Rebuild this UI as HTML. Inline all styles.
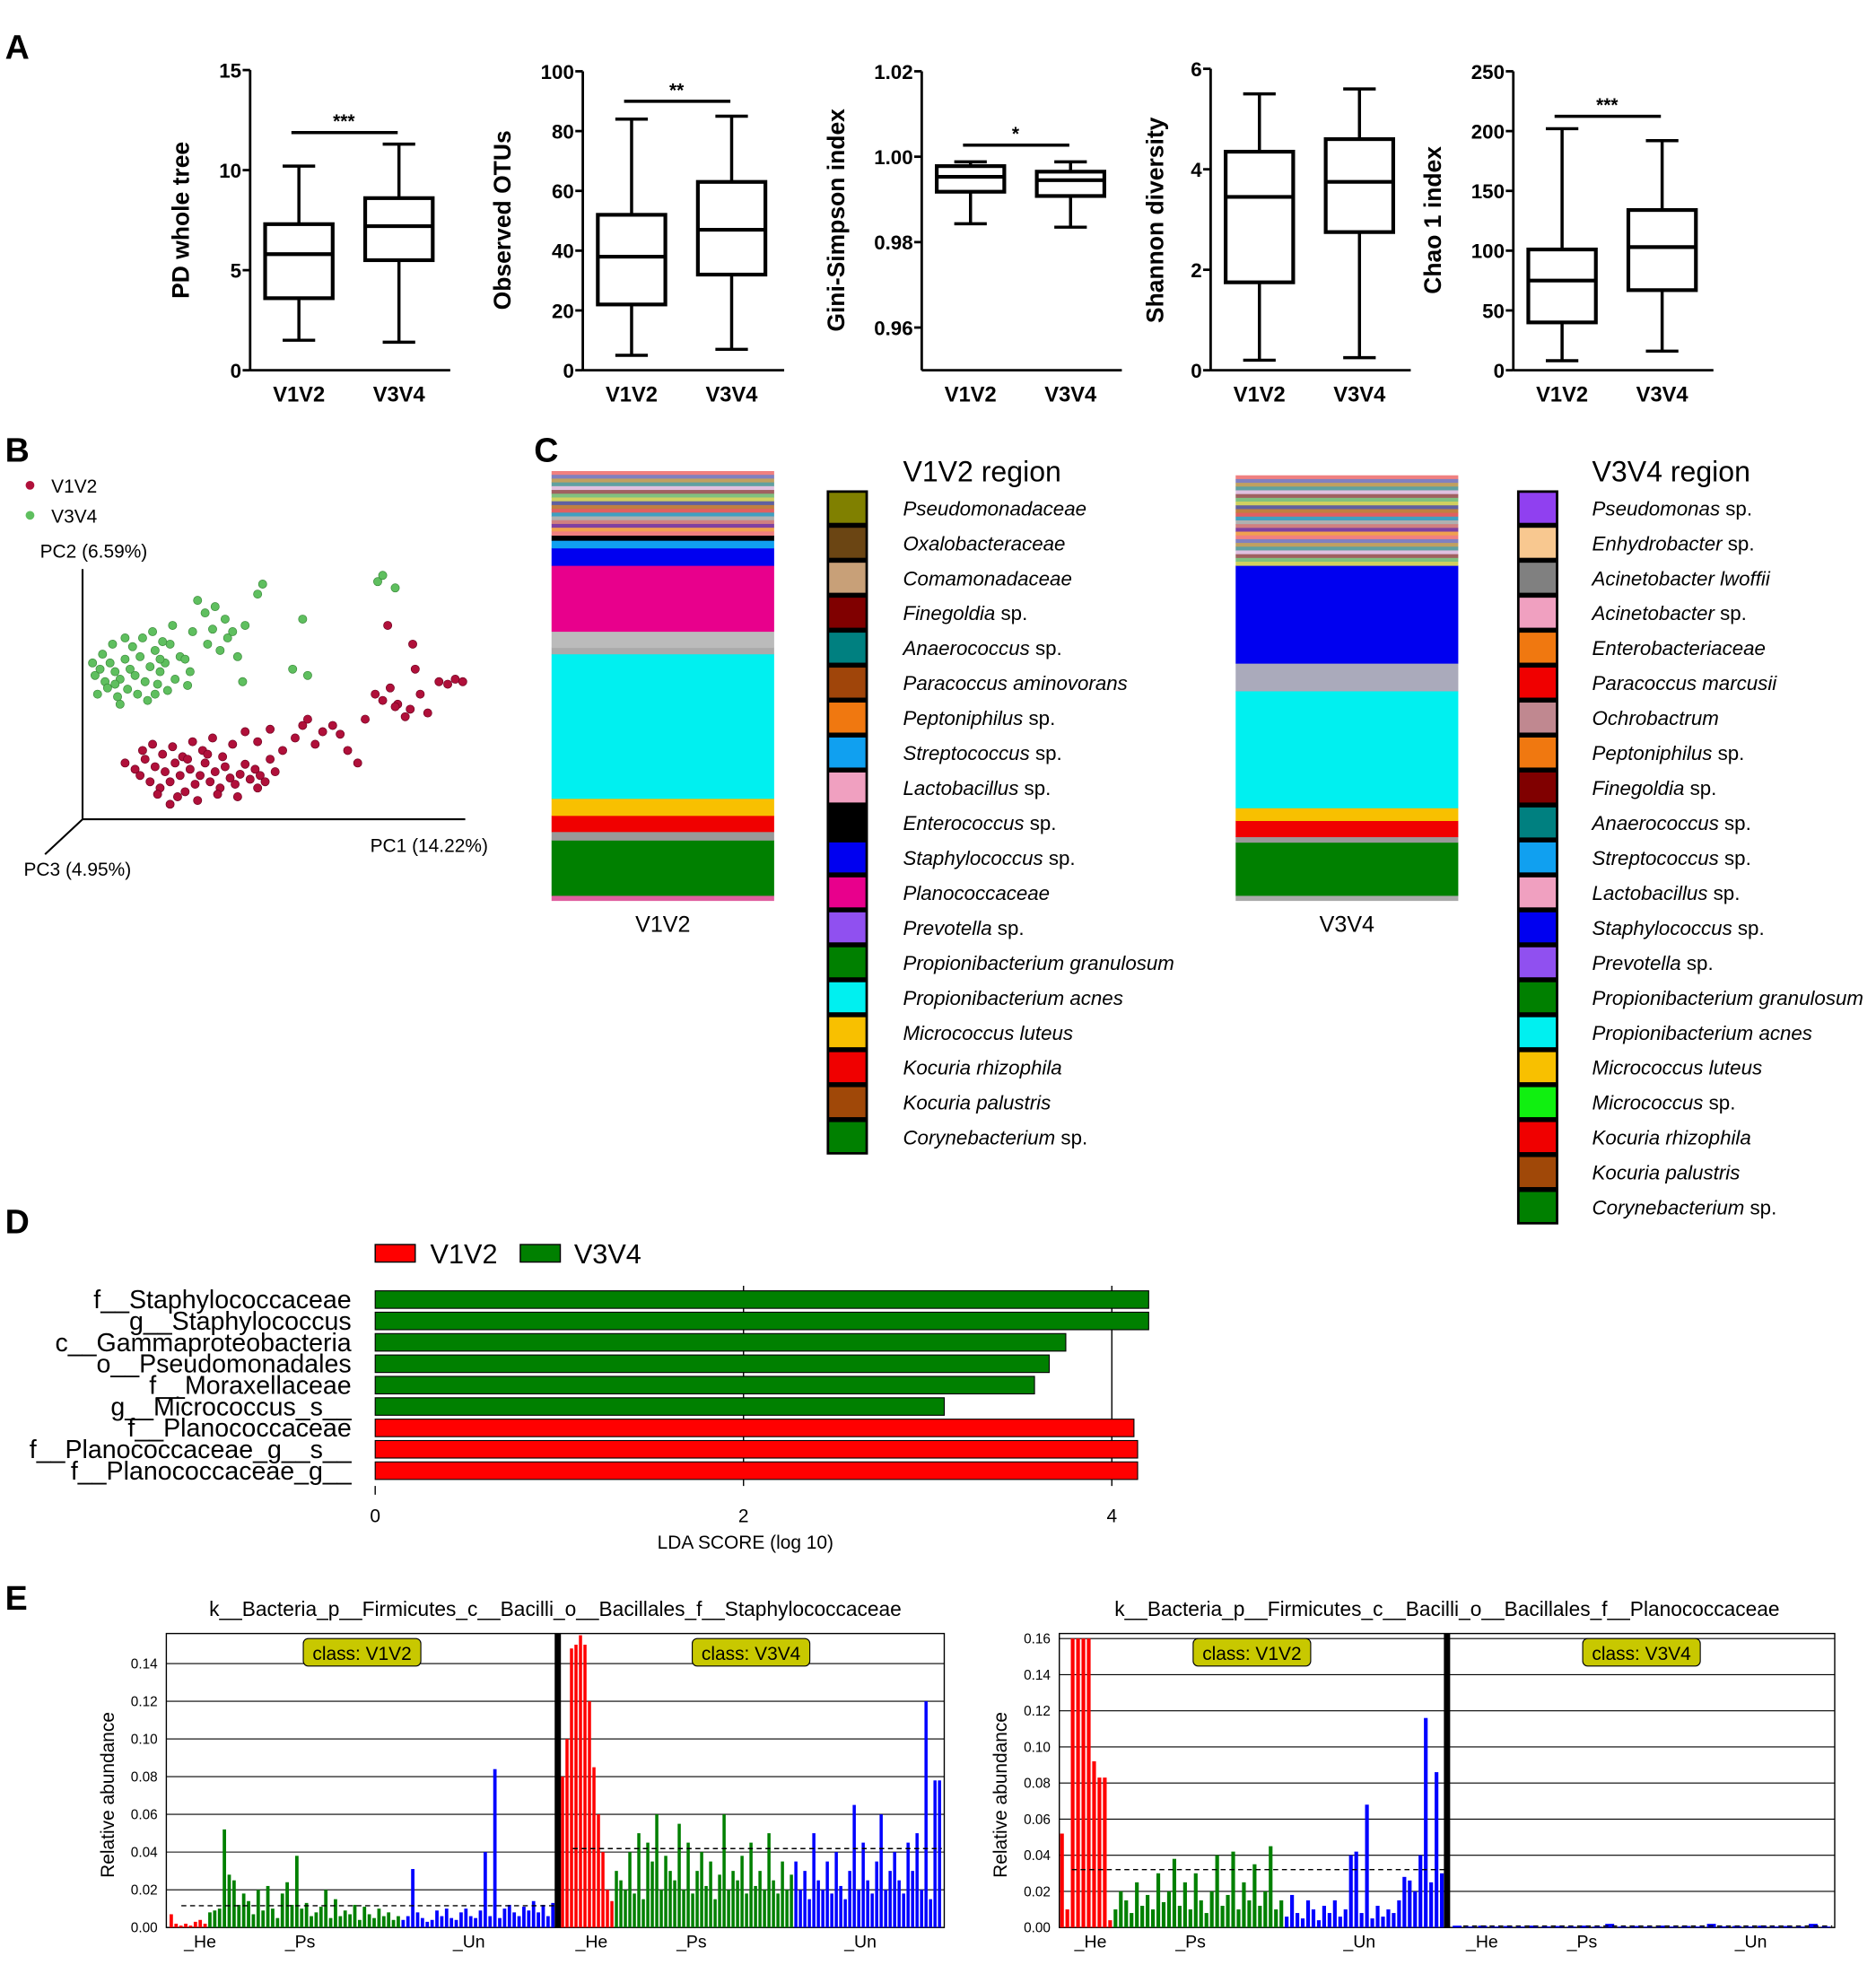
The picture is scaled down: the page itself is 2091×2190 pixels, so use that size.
<!DOCTYPE html>
<html><head><meta charset="utf-8"><style>
html,body{margin:0;padding:0;background:#fff;}
svg{display:block;font-family:"Liberation Sans",sans-serif;}
</style></head><body>
<svg id="fig" width="2091" height="2190" viewBox="0 0 1500 1571" xmlns="http://www.w3.org/2000/svg">
<g id="A"></g>
<g id="B"></g>
<g id="C"></g>
<g id="D"></g>
<g id="E"></g>
</svg>
<script>
// ---------- Panel A data ----------
const boxGroups = ["V1V2","V3V4"];
const pdStats = [[1.5,3.6,5.8,7.3,10.2],[1.4,5.5,7.2,8.6,11.3]];
const otuStats = [[5,22,38,52,84],[7,32,47,63,85]];
const giniStats = [[0.9843,0.9918,0.9953,0.9978,0.9988],[0.9835,0.9908,0.9945,0.9965,0.9988]];
const shannonStats = [[0.2,1.75,3.45,4.35,5.5],[0.25,2.75,3.75,4.6,5.6]];
const chaoStats = [[8,40,75,101,202],[16,67,103,134,192]];
const pdTicks=[0,5,10,15], otuTicks=[0,20,40,60,80,100], giniTicks=[0.96,0.98,1.00,1.02], shTicks=[0,2,4,6], chaoTicks=[0,50,100,150,200,250];
const giniTickLabels=["0.96","0.98","1.00","1.02"];
// ---------- Panel B data ----------
const greenPC1=[10,14,18,22,26,30,34,38,42,46,50,54,58,62,66,70,74,78,12,20,28,36,44,52,60,68,30,16,24,40,48,56,64,72,88,92,98,106,110,116,124,128,140,144,176,180,168,236,240,250,130,82,86,100,104,84,114,120,26,34,8,62,58];
const greenPC2=[115,120,110,125,118,112,128,120,115,130,110,122,135,118,125,140,112,130,100,105,98,104,100,95,108,103,92,132,140,138,145,150,142,155,150,175,165,170,135,145,130,110,180,188,160,115,120,190,195,185,155,128,118,140,152,107,160,150,108,145,125,128,100];
const redPC1=[34,42,46,50,54,58,62,66,70,74,78,82,86,90,94,98,102,106,110,114,118,122,126,130,134,138,142,146,150,154,48,56,64,72,80,88,96,104,112,120,130,140,150,160,170,176,180,186,192,200,206,212,220,226,234,240,246,252,258,262,266,264,270,276,285,292,298,304,244,250,60,76,92,108,124,140,70,84,100];
const redPC2=[45,40,35,48,30,42,25,38,30,45,35,22,40,28,35,45,30,38,25,42,33,28,36,44,32,40,35,30,48,38,55,60,52,58,50,62,55,65,50,60,70,62,72,55,65,75,80,60,70,75,68,55,45,80,100,95,105,92,82,88,120,140,100,85,110,108,112,110,155,90,20,18,15,20,18,25,12,48,52];
// ---------- Panel C data ----------
const v12Names=["Pseudomonadaceae","Oxalobacteraceae","Comamonadaceae","Finegoldia sp.","Anaerococcus sp.","Paracoccus aminovorans","Peptoniphilus sp.","Streptococcus sp.","Lactobacillus sp.","Enterococcus sp.","Staphylococcus sp.","Planococcaceae","Prevotella sp.","Propionibacterium granulosum","Propionibacterium acnes","Micrococcus luteus","Kocuria rhizophila","Kocuria palustris","Corynebacterium sp."];
const v12Colors=["#808000","#6b4513","#c8a078","#800000","#008080","#a0450a","#f07810","#10a0f0","#f0a0c0","#000000","#0000f0","#e8008c","#9050f0","#008000","#00f0f0","#f8c000","#f00000","#a04808","#008000"];
const v34Names=["Pseudomonas sp.","Enhydrobacter sp.","Acinetobacter lwoffii","Acinetobacter sp.","Enterobacteriaceae","Paracoccus marcusii","Ochrobactrum","Peptoniphilus sp.","Finegoldia sp.","Anaerococcus sp.","Streptococcus sp.","Lactobacillus sp.","Staphylococcus sp.","Prevotella sp.","Propionibacterium granulosum","Propionibacterium acnes","Micrococcus luteus","Micrococcus sp.","Kocuria rhizophila","Kocuria palustris","Corynebacterium sp."];
const v34Colors=["#9040f0","#f8c890","#808080","#f0a0c0","#f07810","#f00000","#c08890","#f07810","#800000","#008080","#10a0f0","#f0a0c0","#0000f0","#9050f0","#008000","#00f0f0","#f8c000","#10f010","#f00000","#a04808","#008000"];
const v12Seg=[[1.2,"#e060a0"],[13,"#008000"],[2,"#999"],[3.8,"#f00000"],[4,"#f8c000"],[34,"#00f0f0"],[1.5,"#aaa"],[3.8,"#bbb"],[15.5,"#e8008c"],[4.1,"#0000f0"],[1.8,"#10a0f0"],[1.2,"#000"],[15.1,"stripes"]];
const v34Seg=[[1.2,"#aaa"],[12.5,"#008000"],[1.3,"#999"],[3.8,"#f00000"],[3,"#f8c000"],[27.5,"#00f0f0"],[6.5,"#aab"],[23,"#0000f0"],[21.2,"stripes"]];
// ---------- Panel D data ----------
const ldaLabels=["f__Staphylococcaceae","g__Staphylococcus","c__Gammaproteobacteria","o__Pseudomonadales","f__Moraxellaceae","g__Micrococcus_s__","f__Planococcaceae","f__Planococcaceae_g__s__","f__Planococcaceae_g__"];
const ldaValues=[4.2,4.2,3.75,3.66,3.58,3.09,4.12,4.14,4.14];
const ldaClass=["V3V4","V3V4","V3V4","V3V4","V3V4","V3V4","V1V2","V1V2","V1V2"];
const ldaTicks=[0,2,4];
// ---------- Panel E data ----------
const e1Ticks=[0,0.02,0.04,0.06,0.08,0.10,0.12,0.14];
const e2Ticks=[0,0.02,0.04,0.06,0.08,0.10,0.12,0.14,0.16];
const e1V12Red=[0.007,0.002,0.001,0.002,0.001,0.003,0.004,0.002];
const e1V12Green=[0.008,0.009,0.01,0.052,0.028,0.025,0.012,0.018,0.014,0.007,0.02,0.009,0.022,0.01,0.005,0.018,0.024,0.012,0.038,0.01,0.013,0.006,0.008,0.011,0.02,0.005,0.015,0.006,0.009,0.007,0.012,0.004,0.011,0.007,0.005,0.01,0.006,0.008,0.004,0.006];
const e1V12Blue=[0.004,0.006,0.031,0.008,0.005,0.003,0.004,0.009,0.006,0.01,0.005,0.004,0.008,0.01,0.006,0.005,0.009,0.04,0.006,0.084,0.005,0.01,0.012,0.008,0.006,0.011,0.009,0.014,0.008,0.012,0.006,0.013];
const e1V34Red=[0.08,0.1,0.148,0.15,0.155,0.15,0.12,0.085,0.06,0.04,0.02,0.014];
const e1V34Green=[0.03,0.025,0.02,0.04,0.018,0.05,0.015,0.045,0.035,0.06,0.02,0.038,0.03,0.025,0.055,0.02,0.045,0.018,0.03,0.04,0.022,0.035,0.015,0.028,0.06,0.02,0.03,0.025,0.038,0.018,0.045,0.022,0.03,0.02,0.05,0.025,0.018,0.035,0.02,0.028];
const e1V34Blue=[0.035,0.02,0.03,0.015,0.05,0.025,0.02,0.035,0.018,0.04,0.022,0.015,0.03,0.065,0.02,0.045,0.025,0.018,0.035,0.06,0.02,0.03,0.04,0.025,0.018,0.045,0.03,0.05,0.02,0.12,0.015,0.078,0.078];
const e2V12Red=[0.052,0.01,0.16,0.16,0.16,0.16,0.092,0.083,0.083,0.004];
const e2V12Green=[0.01,0.02,0.015,0.008,0.025,0.012,0.018,0.01,0.03,0.014,0.02,0.038,0.012,0.025,0.01,0.03,0.015,0.008,0.02,0.04,0.012,0.018,0.042,0.01,0.025,0.015,0.035,0.012,0.02,0.045,0.01,0.015];
const e2V12Blue=[0.006,0.018,0.008,0.005,0.015,0.01,0.004,0.012,0.008,0.015,0.006,0.01,0.04,0.042,0.008,0.068,0.005,0.012,0.006,0.01,0.008,0.015,0.028,0.026,0.02,0.04,0.116,0.025,0.086,0.03];
const e2V34=[0.001,0.0005,0.001,0.0005,0.0008,0.0005,0.001,0.0006,0.0008,0.0005,0.001,0.0005,0.002,0.0005,0.0008,0.0005,0.001,0.0005,0.0008,0.0005,0.002,0.0006,0.0008,0.0005,0.001,0.0005,0.0008,0.0005,0.002,0.0005];

const NS="http://www.w3.org/2000/svg";
function mk(parent,tag,attrs,text){const e=document.createElementNS(NS,tag);for(const k in attrs)e.setAttribute(k,attrs[k]);if(text!==undefined)e.textContent=text;parent.appendChild(e);return e;}
function lin(d0,d1,r0,r1){return v=>r0+(v-d0)*(r1-r0)/(d1-d0);}

// ===== Panel A =====
const A=document.getElementById('A');
let pl=mk(A,'text',{x:4,y:47,'font-size':27,'font-weight':'bold'},'A');


const boxPlots=[
 {ax:200,x1:360,top:56,min:0,max:15,ticks:pdTicks,labels:pdTicks.map(String),title:"PD whole tree",tx:151,stats:pdStats,sig:[106,"***"],name:"pd-whole-tree"},
 {ax:466,x1:627,top:57,min:0,max:100,ticks:otuTicks,labels:otuTicks.map(String),title:"Observed OTUs",tx:408,stats:otuStats,sig:[81,"**"],name:"observed-otus"},
 {ax:737,x1:897,top:57,min:0.95,max:1.02,ticks:giniTicks,labels:giniTickLabels,title:"Gini-Simpson index",tx:675,stats:giniStats,sig:[116,"*"],name:"gini-simpson"},
 {ax:968,x1:1128,top:55,min:0,max:6,ticks:shTicks,labels:shTicks.map(String),title:"Shannon diversity",tx:930,stats:shannonStats,sig:null,name:"shannon"},
 {ax:1210,x1:1370,top:57,min:0,max:250,ticks:chaoTicks,labels:chaoTicks.map(String),title:"Chao 1 index",tx:1152,stats:chaoStats,sig:[93,"***"],name:"chao1"}];
boxPlots.forEach(p=>{
 const g=mk(A,'g',{});
 
 
 const y=lin(p.min,p.max,296,p.top);
 const topY=y(p.ticks[p.ticks.length-1]);
 mk(g,'line',{x1:p.ax,y1:topY,x2:p.ax,y2:296,stroke:'#000','stroke-width':2});
 mk(g,'line',{x1:p.ax,y1:296,x2:p.x1,y2:296,stroke:'#000','stroke-width':2});
 p.ticks.forEach((t,i)=>{mk(g,'line',{x1:p.ax-6,y1:y(t),x2:p.ax,y2:y(t),stroke:'#000','stroke-width':2});
  const tl=mk(g,'text',{x:p.ax-7,y:y(t)+6,'font-size':16,'font-weight':'bold','text-anchor':'end'},p.labels[i]);
  
  });
 const tt=mk(g,'text',{x:p.tx,y:176,'font-size':19,'font-weight':'bold','text-anchor':'middle',transform:`rotate(-90 ${p.tx} 176)`},p.title);
 
 
 const cx=[p.ax+39,p.ax+119];
 boxGroups.forEach((gname,i)=>{
  const s=p.stats[i],c=cx[i],w=27;
  mk(g,'line',{x1:c,y1:y(s[0]),x2:c,y2:y(s[4]),stroke:'#000','stroke-width':2.5});
  mk(g,'line',{x1:c-13,y1:y(s[0]),x2:c+13,y2:y(s[0]),stroke:'#000','stroke-width':2.5});
  mk(g,'line',{x1:c-13,y1:y(s[4]),x2:c+13,y2:y(s[4]),stroke:'#000','stroke-width':2.5});
  const b=mk(g,'rect',{x:c-w,y:y(s[3]),width:2*w,height:y(s[1])-y(s[3]),fill:'#fff',stroke:'#000','stroke-width':3});
  
  
  mk(g,'line',{x1:c-w,y1:y(s[2]),x2:c+w,y2:y(s[2]),stroke:'#000','stroke-width':3});
  const xl=mk(g,'text',{x:c,y:321,'font-size':17,'font-weight':'bold','text-anchor':'middle'},gname);
  
  
 });
 if(p.sig){mk(g,'line',{x1:cx[0]-6,y1:p.sig[0],x2:cx[1]-1,y2:p.sig[0],stroke:'#000','stroke-width':2.5});
  const st=mk(g,'text',{x:(cx[0]+cx[1])/2-4,y:p.sig[0]-4,'font-size':15,'font-weight':'bold','text-anchor':'middle'},p.sig[1]);
  
  }
});

// ===== Panel B =====
const B=document.getElementById('B');
pl=mk(B,'text',{x:4,y:369,'font-size':27,'font-weight':'bold'},'B');


mk(B,'line',{x1:66,y1:455,x2:66,y2:655,stroke:'#000','stroke-width':1.5});
mk(B,'line',{x1:66,y1:655,x2:372,y2:655,stroke:'#000','stroke-width':1.5});
mk(B,'line',{x1:66,y1:655,x2:36,y2:683,stroke:'#000','stroke-width':1.5});
[["PC2 (6.59%)",32,446],["PC1 (14.22%)",296,681],["PC3 (4.95%)",19,700]].forEach(a=>{const t=mk(B,'text',{x:a[1],y:a[2],'font-size':15},a[0]);});
const px=v=>66+v, py=v=>655-v;
const lg1=mk(B,'circle',{cx:24,cy:388,r:3.5,fill:'#b0103a'});


const lg2=mk(B,'circle',{cx:24,cy:412,r:3.5,fill:'#5fbf5f'});


let lt=mk(B,'text',{x:41,y:394,'font-size':15},'V1V2');
lt=mk(B,'text',{x:41,y:418,'font-size':15},'V3V4');
greenPC1.forEach((v,i)=>{const c=mk(B,'circle',{cx:px(v),cy:py(greenPC2[i]),r:3.3,fill:'#5fbf5f',stroke:'#3a8a3a','stroke-width':0.5});});
redPC1.forEach((v,i)=>{const c=mk(B,'circle',{cx:px(v),cy:py(redPC2[i]),r:3.3,fill:'#b0103a',stroke:'#700020','stroke-width':0.5});});

// ===== Panel C =====
const C=document.getElementById('C');
pl=mk(C,'text',{x:427,y:369,'font-size':27,'font-weight':'bold'},'C');


const stripeCols=["#f08080","#8080c0","#c0a060","#60a0a0","#e0c0e0","#a06060","#80c080","#d0d060","#6060a0","#c08040","#e06060","#40a0c0","#b0b0b0","#d08080","#8040a0","#f0a050"];
function stack(seg,x,name,label){
 const top=380,bot=720,h=bot-top;let cur=bot;
 const g=mk(C,'g',{});
 seg.forEach(s=>{const sh=s[0]/100*h;cur-=sh;
  if(s[1]==="stripes"){let n=Math.round(sh/3);for(let k=0;k<n;k++){mk(g,'rect',{x:x,y:cur+k*sh/n,width:178,height:sh/n+0.3,fill:stripeCols[k%stripeCols.length]});}}
  else{const r=mk(g,'rect',{x:x,y:cur,width:178,height:sh+0.3,fill:s[1]});}});
 const t=mk(C,'text',{x:x+89,y:bot+25,'font-size':18,'text-anchor':'middle'},label);
}
stack(v12Seg,441,'stacked-bar-v1v2','V1V2');
stack(v34Seg,988,'stacked-bar-v3v4','V3V4');
function legend(names,cols,sx,tx,title){
 const g=mk(C,'g',{});
 const t=mk(g,'text',{x:tx,y:385,'font-size':23},title);
 const n=names.length;
 mk(g,'rect',{x:sx,y:392,width:33,height:n*27.95,fill:'#000'});
 names.forEach((nm,i)=>{const y=392+i*27.95;
  mk(g,'rect',{x:sx+2,y:y+2,width:29,height:24,fill:cols[i]});
  const parts=nm.match(/^(.*?)( sp\.)?$/);
  const tt=mk(g,'text',{x:tx,y:y+20,'font-size':16});
  
  
  mk(tt,'tspan',{'font-style':'italic'},parts[1]);
  if(parts[2])mk(tt,'tspan',{},parts[2]);
 });
}
legend(v12Names,v12Colors,661,722,'V1V2 region');
legend(v34Names,v34Colors,1213,1273,'V3V4 region');

// ===== Panel D =====
const D=document.getElementById('D');
pl=mk(D,'text',{x:4,y:986,'font-size':27,'font-weight':'bold'},'D');


const dx=lin(0,4,300,889);
mk(D,'rect',{x:300,y:995,width:32,height:14,fill:'#f00',stroke:'#000'});
lt=mk(D,'text',{x:344,y:1010,'font-size':22},'V1V2');
mk(D,'rect',{x:416,y:995,width:32,height:14,fill:'#008000',stroke:'#000'});
lt=mk(D,'text',{x:459,y:1010,'font-size':22},'V3V4');
ldaTicks.forEach(t=>{if(t>0)mk(D,'line',{x1:dx(t),y1:1028,x2:dx(t),y2:1188,stroke:'#000','stroke-width':1});
 const tl=mk(D,'text',{x:dx(t),y:1217,'font-size':15,'text-anchor':'middle'},String(t));});
mk(D,'line',{x1:300,y1:1188,x2:300,y2:1195,stroke:'#000'});
ldaValues.forEach((v,i)=>{const yc=1039+i*17.1;
 const r=mk(D,'rect',{x:300,y:yc-7,width:dx(v)-300,height:14,fill:ldaClass[i]==="V1V2"?'#f00':'#008000',stroke:'#000','stroke-width':0.8});
 
 const t=mk(D,'text',{x:281,y:yc+7,'font-size':20.5,'text-anchor':'end'},ldaLabels[i]);});
lt=mk(D,'text',{x:596,y:1238,'font-size':15,'text-anchor':'middle'},'LDA SCORE (log 10)');

// ===== Panel E =====
const E=document.getElementById('E');
pl=mk(E,'text',{x:4,y:1287,'font-size':27,'font-weight':'bold'},'E');


function abund(x0,x1,div,ticks,title,halves,name){
 const g=mk(E,'g',{});
 const yy=ticks.length===9?lin(0,0.16,1541,1310):lin(0,0.14,1541,1330);
 const t=mk(g,'text',{x:(x0+x1)/2,y:1292,'font-size':16.3,'text-anchor':'middle'},title);
 ticks.forEach(tk=>{mk(g,'line',{x1:x0,y1:yy(tk),x2:x1,y2:yy(tk),stroke:'#000','stroke-width':0.8});
  const tl=mk(g,'text',{x:x0-7,y:yy(tk)+4,'font-size':11,'text-anchor':'end'},tk.toFixed(2));});
 mk(g,'rect',{x:x0,y:1306,width:x1-x0,height:235,fill:'none',stroke:'#000','stroke-width':1});
 halves.forEach(h=>{
  const segs=h.segs,tot=segs.reduce((a,s)=>a+s[0].length,0),bw=(h.e-h.s)/tot;let k=0;
  segs.forEach(s=>{s[0].forEach(v=>{const r=mk(g,'rect',{x:h.s+k*bw+bw*0.15,y:yy(v),width:bw*0.7,height:1541-yy(v),fill:s[1]});k++;});});
  const all=segs.flatMap(s=>s[0]);const mean=all.reduce((a,b)=>a+b,0)/all.length;
  mk(g,'line',{x1:h.s+10,y1:yy(mean),x2:h.e,y2:yy(mean),stroke:'#000','stroke-width':1,'stroke-dasharray':'4 3'});
  const lx=(h.s+h.e)/2;
  const bx=mk(g,'rect',{x:lx-47,y:1310,width:94,height:22,rx:4,fill:'#c8c800',stroke:'#000','stroke-width':0.8});
  const ct=mk(g,'text',{x:lx,y:1327,'font-size':15,'text-anchor':'middle'},h.label);
  [["_He",h.s+25],["_Ps",h.s+105],["_Un",h.s+240]].forEach(a=>{const xt=mk(g,'text',{x:a[1],y:1557,'font-size':14,'text-anchor':'middle'},a[0]);});
 });
 mk(g,'line',{x1:div,y1:1306,x2:div,y2:1541,stroke:'#000','stroke-width':5});
 const yt=mk(g,'text',{x:x0-42,y:1435,'font-size':15,'text-anchor':'middle',transform:`rotate(-90 ${x0-42} 1435)`},'Relative abundance');
}
abund(133,755,446,e1Ticks,"k__Bacteria_p__Firmicutes_c__Bacilli_o__Bacillales_f__Staphylococcaceae",
 [{s:135,e:444,label:"class: V1V2",segs:[[e1V12Red,'#f00'],[e1V12Green,'#008000'],[e1V12Blue,'#00f']]},
  {s:448,e:753,label:"class: V3V4",segs:[[e1V34Red,'#f00'],[e1V34Green,'#008000'],[e1V34Blue,'#00f']]}],'abundance-chart-staphylococcaceae');
abund(847,1467,1157,e2Ticks,"k__Bacteria_p__Firmicutes_c__Bacilli_o__Bacillales_f__Planococcaceae",
 [{s:847,e:1155,label:"class: V1V2",segs:[[e2V12Red,'#f00'],[e2V12Green,'#008000'],[e2V12Blue,'#00f']]},
  {s:1160,e:1465,label:"class: V3V4",segs:[[e2V34,'#00f']]}],'abundance-chart-planococcaceae');
</script>
</body></html>
